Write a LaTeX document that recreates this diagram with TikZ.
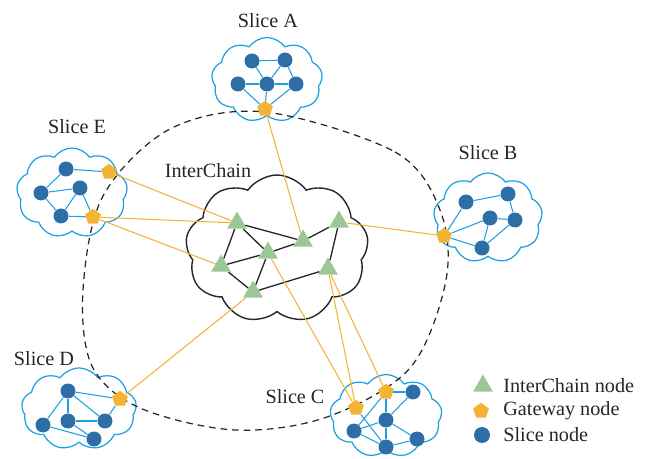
\documentclass[tikz,border=0pt]{standalone}
\usepackage{fontspec}
\setmainfont{Liberation Serif}
\usepackage{tikz}
\usetikzlibrary{shapes.geometric, shapes.symbols}
\definecolor{slicecyan}{RGB}{27, 161, 226}
\definecolor{nodeblue}{RGB}{46, 110, 166}
\definecolor{gwyellow}{RGB}{245, 179, 53}
\definecolor{icgreen}{RGB}{154, 199, 149}

\tikzset{
  slicecloud/.style={cloud, cloud puffs=9, cloud puff arc=110, cloud ignores aspect, draw=slicecyan, line width=0.7pt, inner sep=0pt},
  iccloud/.style={cloud, cloud puffs=9, cloud puff arc=110, cloud ignores aspect, draw=black!85, line width=0.8pt, inner sep=0pt},
  slicenode/.style={circle, fill=nodeblue, minimum size=0.3cm, inner sep=0pt},
  gwnode/.style={regular polygon, regular polygon sides=5, fill=gwyellow, minimum size=0.33cm, inner sep=0pt},
  icnode/.style={regular polygon, regular polygon sides=3, fill=icgreen, minimum size=0.46cm, inner sep=0pt},
  sllink/.style={draw=slicecyan, line width=0.6pt},
  gwlink/.style={draw=gwyellow, line width=0.6pt},
  iclink/.style={draw=black!85, line width=0.75pt},
  lbl/.style={font=\fontsize{11.5}{13}\selectfont, text=black!85, inner sep=0pt}
}

\begin{document}
\begin{tikzpicture}[x=0.02cm, y=-0.02cm]
  \useasboundingbox (0,0) rectangle (653,459);

  % Clouds
  \node[slicecloud, minimum width=2.22cm, minimum height=1.7cm] (cloudA) at (267,80) {};
  \node[slicecloud, minimum width=2.22cm, minimum height=1.8cm] (cloudE) at (72,193) {};
  \node[slicecloud, minimum width=2.18cm, minimum height=1.8cm] (cloudB) at (488,218) {};
  \node[slicecloud, minimum width=2.3cm, minimum height=1.64cm] (cloudD) at (79,409) {};
  \node[slicecloud, minimum width=2.24cm, minimum height=1.66cm] (cloudC) at (386,416) {};
  \node[iccloud, minimum width=3.66cm, minimum height=2.96cm] (cloudIC) at (277,249) {};

  % Dashed ring
  \draw[line width=0.7pt, dash pattern=on 3.8pt off 2.8pt, black!85]
    plot[smooth cycle, tension=0.55] coordinates {(265,112) (395,152) (440,210) (446,280)
      (410,368) (327,417) (235,430) (140,408) (92,366) (83,290) (103,196) (170,129)};

  % Labels
  \node[lbl] (labA) at (268,21) {Slice A};
  \node[lbl] (labE) at (77,127) {Slice E};
  \node[lbl] (labB) at (488,153) {Slice B};
  \node[lbl] (labD) at (44,359) {Slice D};
  \node[lbl] (labC) at (295,397) {Slice C};
  \node[lbl] (labIC) at (208,171) {InterChain};

  % InterChain nodes
  \node[icnode] (t1) at (237,223) {};
  \node[icnode] (t2) at (303,241) {};
  \node[icnode] (t3) at (339,222) {};
  \node[icnode] (t4) at (268,253) {};
  \node[icnode] (t5) at (221,266) {};
  \node[icnode] (t6) at (328,269) {};
  \node[icnode] (t7) at (253,292) {};
  \draw[iclink] (t1) -- (t2);
  \draw[iclink] (t1) -- (t4);
  \draw[iclink] (t1) -- (t5);
  \draw[iclink] (t4) -- (t2);
  \draw[iclink] (t2) -- (t3);
  \draw[iclink] (t3) -- (t6);
  \draw[iclink] (t5) -- (t4);
  \draw[iclink] (t4) -- (t7);
  \draw[iclink] (t5) -- (t7);
  \draw[iclink] (t7) -- (t6);

  % Slice A
  \node[slicenode] (a1) at (252,61) {};
  \node[slicenode] (a2) at (285,60) {};
  \node[slicenode] (a3) at (238,84) {};
  \node[slicenode] (a4) at (267,84) {};
  \node[slicenode] (a5) at (296,84) {};
  \node[gwnode] (ga) at (265,109) {};
  \draw[sllink] (a1) -- (a2);
  \draw[sllink] (a1) -- (a4);
  \draw[sllink] (a2) -- (a4);
  \draw[sllink] (a2) -- (a5);
  \draw[sllink] (a3) -- (a4);
  \draw[sllink] (a4) -- (a5);
  \draw[sllink] (ga) -- (a3);
  \draw[sllink] (ga) -- (a4);
  \draw[sllink] (ga) -- (a5);

  % Slice E
  \node[slicenode] (e1) at (66,169) {};
  \node[slicenode] (e2) at (41,193) {};
  \node[slicenode] (e3) at (80,188) {};
  \node[slicenode] (e4) at (61,216) {};
  \node[gwnode] (ge1) at (109,172) {};
  \node[gwnode] (ge2) at (93,217) {};
  \draw[sllink] (e1) -- (e2);
  \draw[sllink] (e1) -- (ge1);
  \draw[sllink] (e2) -- (e3);
  \draw[sllink] (e2) -- (e4);
  \draw[sllink] (e3) -- (e4);
  \draw[sllink] (e3) -- (ge2);
  \draw[sllink] (e4) -- (ge2);

  % Slice B
  \node[slicenode] (b1) at (466,202) {};
  \node[slicenode] (b2) at (508,194) {};
  \node[slicenode] (b3) at (490,218) {};
  \node[slicenode] (b4) at (515,220) {};
  \node[slicenode] (b5) at (482,248) {};
  \node[gwnode] (gb) at (444,236) {};
  \draw[sllink] (gb) -- (b1);
  \draw[sllink] (gb) -- (b3);
  \draw[sllink] (gb) -- (b5);
  \draw[sllink] (b1) -- (b2);
  \draw[sllink] (b3) -- (b4);
  \draw[sllink] (b3) -- (b5);
  \draw[sllink] (b4) -- (b5);
  \draw[sllink] (b4) -- (b2);

  % Slice D
  \node[slicenode] (d1) at (68,391) {};
  \node[slicenode] (d2) at (43,425) {};
  \node[slicenode] (d3) at (68,421) {};
  \node[slicenode] (d4) at (105,421) {};
  \node[slicenode] (d5) at (94,439) {};
  \node[gwnode] (gd) at (120,399) {};
  \draw[sllink] (d1) -- (gd);
  \draw[sllink] (d1) -- (d2);
  \draw[sllink] (d1) -- (d3);
  \draw[sllink] (d1) -- (d4);
  \draw[sllink] (d2) -- (d5);
  \draw[sllink] (d3) -- (d4);
  \draw[sllink] (d3) -- (d5);
  \draw[sllink] (d4) -- (gd);

  % Slice C
  \node[slicenode] (c1) at (413,392) {};
  \node[slicenode] (c2) at (386,420) {};
  \node[slicenode] (c3) at (354,431) {};
  \node[slicenode] (c4) at (417,439) {};
  \node[slicenode] (c5) at (386,447) {};
  \node[gwnode] (gc1) at (386,392) {};
  \node[gwnode] (gc2) at (356,408) {};
  \draw[sllink] (gc1) -- (c1);
  \draw[sllink] (gc1) -- (c2);
  \draw[sllink] (gc1) -- (c3);
  \draw[sllink] (gc2) -- (c5);
  \draw[sllink] (c1) -- (c2);
  \draw[sllink] (c2) -- (c3);
  \draw[sllink] (c2) -- (c4);
  \draw[sllink] (c2) -- (c5);
  \draw[sllink] (c3) -- (c5);
  \draw[sllink] (c4) -- (c5);

  % Gateway links
  \draw[gwlink] (ga) -- (t2);
  \draw[gwlink] (ge1) -- (t1);
  \draw[gwlink] (ge2) -- (t1);
  \draw[gwlink] (ge2) -- (t5);
  \draw[gwlink] (gb) -- (t3);
  \draw[gwlink] (gd) -- (t7);
  \draw[gwlink] (t4) -- (gc2);
  \draw[gwlink] (t6) -- (gc2);
  \draw[gwlink] (t6) -- (gc1);

  % Legend
  \node[icnode] (keyic) at (483,386) {};
  \node[gwnode] (keygw) at (481,411) {};
  \node[slicenode, minimum size=0.32cm] (keysl) at (482,435) {};
  \node[lbl, anchor=west] (keyictext) at (503,386) {InterChain node};
  \node[lbl, anchor=west] (keygwtext) at (503,411) {Gateway node};
  \node[lbl, anchor=west] (keysltext) at (503,435) {Slice node};
\end{tikzpicture}
\end{document}
